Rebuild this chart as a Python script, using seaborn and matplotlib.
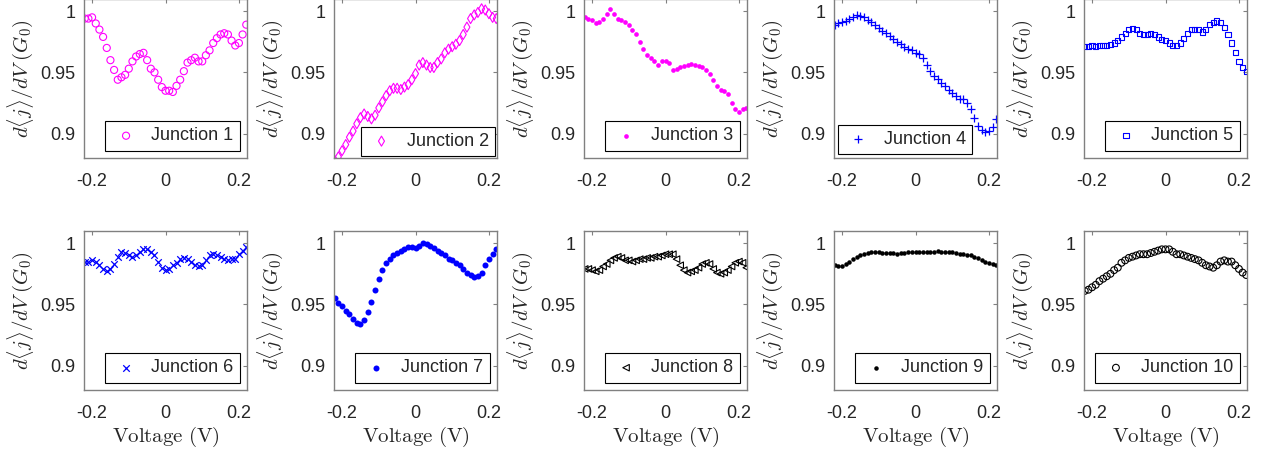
import numpy as np
import matplotlib
matplotlib.use("Agg")
import matplotlib.pyplot as plt
import seaborn as sns

volts = [-0.22, -0.21, -0.20, -0.19, -0.18, -0.17, -0.16, -0.15, -0.14, -0.13, -0.12,
         -0.11, -0.10, -0.09, -0.08, -0.07, -0.06, -0.05, -0.04, -0.03, -0.02, -0.01,
         0.00, 0.01, 0.02, 0.03, 0.04, 0.05, 0.06, 0.07, 0.08, 0.09, 0.10, 0.11,
         0.12, 0.13, 0.14, 0.15, 0.16, 0.17, 0.18, 0.19, 0.20, 0.21, 0.22]

j1 = [0.994, 0.994, 0.995, 0.990, 0.985, 0.979, 0.970, 0.960, 0.952, 0.944, 0.946,
      0.948, 0.953, 0.959, 0.963, 0.965, 0.966, 0.960, 0.953, 0.950, 0.944, 0.938,
      0.935, 0.935, 0.934, 0.939, 0.944, 0.951, 0.958, 0.960, 0.962, 0.959, 0.959, 0.964,
      0.968, 0.974, 0.978, 0.981, 0.982, 0.981, 0.976, 0.972, 0.974, 0.981, 0.989]
j2 = [0.878, 0.881, 0.886, 0.891, 0.897, 0.902, 0.908, 0.913, 0.916, 0.914, 0.912,
      0.915, 0.921, 0.926, 0.931, 0.935, 0.937, 0.937, 0.936, 0.938, 0.940, 0.944,
      0.949, 0.956, 0.958, 0.956, 0.954, 0.954, 0.958, 0.961, 0.966, 0.969, 0.971, 0.973,
      0.976, 0.981, 0.987, 0.994, 0.997, 0.999, 1.002, 1.001, 0.998, 0.995, 0.994]
j3 = [0.995, 0.994, 0.993, 0.990, 0.991, 0.994, 0.998, 1.002, 0.998, 0.994, 0.993,
      0.991, 0.989, 0.985, 0.981, 0.975, 0.969, 0.964, 0.962, 0.959, 0.956, 0.959,
      0.959, 0.958, 0.952, 0.953, 0.954, 0.955, 0.956, 0.957, 0.956, 0.955, 0.954, 0.952,
      0.949, 0.944, 0.939, 0.936, 0.935, 0.932, 0.925, 0.920, 0.918, 0.920, 0.921]
j4 = [0.989, 0.990, 0.991, 0.992, 0.994, 0.995, 0.997, 0.996, 0.995, 0.993, 0.991,
      0.989, 0.986, 0.984, 0.982, 0.980, 0.977, 0.975, 0.973, 0.971, 0.969, 0.968,
      0.966, 0.965, 0.962, 0.956, 0.951, 0.947, 0.945, 0.941, 0.939, 0.936, 0.933, 0.931,
      0.928, 0.928, 0.925, 0.920, 0.913, 0.906, 0.903, 0.901, 0.902, 0.905, 0.912]
j5 = [0.971, 0.971, 0.972, 0.971, 0.972, 0.972, 0.972, 0.973, 0.974, 0.976, 0.979,
      0.982, 0.985, 0.986, 0.985, 0.982, 0.981, 0.981, 0.982, 0.981, 0.979, 0.977,
      0.976, 0.974, 0.972, 0.972, 0.974, 0.978, 0.982, 0.985, 0.985, 0.985, 0.983, 0.985,
      0.989, 0.991, 0.992, 0.991, 0.987, 0.981, 0.974, 0.966, 0.959, 0.954, 0.951]
j6 = [0.985, 0.985, 0.986, 0.985, 0.982, 0.979, 0.977, 0.979, 0.983, 0.989, 0.993,
      0.992, 0.990, 0.989, 0.990, 0.993, 0.995, 0.995, 0.993, 0.990, 0.985, 0.980,
      0.978, 0.979, 0.982, 0.984, 0.987, 0.988, 0.987, 0.985, 0.982, 0.981, 0.982, 0.986,
      0.990, 0.991, 0.990, 0.989, 0.987, 0.986, 0.987, 0.987, 0.991, 0.994, 0.997]
j7 = [0.955, 0.951, 0.949, 0.945, 0.942, 0.938, 0.935, 0.934, 0.937, 0.944, 0.952,
      0.962, 0.971, 0.978, 0.984, 0.987, 0.990, 0.992, 0.994, 0.995, 0.997, 0.997,
      0.996, 0.998, 1.000, 0.999, 0.998, 0.996, 0.994, 0.992, 0.990, 0.987, 0.986, 0.984,
      0.982, 0.979, 0.976, 0.974, 0.972, 0.973, 0.976, 0.982, 0.987, 0.991, 0.995]
j8 = [0.979, 0.979, 0.978, 0.977, 0.978, 0.981, 0.983, 0.986, 0.988, 0.989, 0.988,
      0.986, 0.986, 0.985, 0.986, 0.987, 0.987, 0.988, 0.988, 0.989, 0.989, 0.990,
      0.991, 0.991, 0.991, 0.987, 0.982, 0.978, 0.976, 0.977, 0.978, 0.980, 0.983, 0.984,
      0.983, 0.979, 0.976, 0.975, 0.976, 0.978, 0.981, 0.984, 0.985, 0.984, 0.980]
j9 = [0.982, 0.981, 0.981, 0.983, 0.985, 0.987, 0.989, 0.990, 0.991, 0.992, 0.993,
      0.993, 0.993, 0.992, 0.992, 0.992, 0.992, 0.991, 0.992, 0.992, 0.993, 0.993,
      0.993, 0.993, 0.993, 0.993, 0.993, 0.993, 0.994, 0.993, 0.993, 0.993, 0.993, 0.992,
      0.991, 0.991, 0.990, 0.990, 0.989, 0.988, 0.986, 0.985, 0.984, 0.983, 0.982]
j10 = [0.961, 0.962, 0.964, 0.966, 0.969, 0.971, 0.973, 0.975, 0.978, 0.980, 0.984,
       0.986, 0.988, 0.989, 0.990, 0.991, 0.991, 0.991, 0.992, 0.993, 0.994, 0.995,
       0.995, 0.995, 0.993, 0.991, 0.991, 0.990, 0.989, 0.988, 0.987, 0.986, 0.984, 0.982,
       0.981, 0.980, 0.982, 0.985, 0.986, 0.985, 0.985, 0.982, 0.979, 0.976, 0.974]

series = [j1, j2, j3, j4, j5, j6, j7, j8, j9, j10]
labels = ["Junction %d" % i for i in range(1, 11)]
colors = ["#FF00FF"] * 3 + ["#0000FF"] * 4 + ["#000000"] * 3
markers = ["o", "d", ".", "+", "s", "x", ".", "<", ".", "o"]
hollow = [True, True, False, False, True, False, False, True, False, True]
sizes = [26, 26, 45, 30, 14, 22, 75, 22, 42, 24]
leg_loc = ["lower right"] * 10
leg_loc[3] = "lower left"
leg_pad = [0.4] * 10
leg_pad[1] = 0.1
leg_pad[3] = 0.2

sns.set_style("white")
plt.rcParams["font.family"] = ["Liberation Sans", "DejaVu Sans"]
plt.rcParams["mathtext.fontset"] = "cm"
plt.rcParams["axes.unicode_minus"] = False

fig = plt.figure(figsize=(12.73, 4.55), dpi=100)

for i in range(10):
    row, col = divmod(i, 5)
    left = (84 + 250 * col) / 1273
    bottom = (1 - 158 / 455) if row == 0 else (1 - 390 / 455)
    ax = fig.add_axes([left, bottom, 163 / 1273, 159 / 455])

    kw = dict(marker=markers[i], s=sizes[i], color=colors[i], label=labels[i])
    if hollow[i]:
        kw.update(facecolor="none", edgecolor=colors[i], linewidth=0.8)
    elif markers[i] == ".":
        kw.update(edgecolor=colors[i], linewidth=0)
    else:
        kw.update(linewidth=0.9)
    sns.scatterplot(x=volts, y=series[i], ax=ax, **kw)

    ax.set_xlim(-0.222, 0.222)
    ax.set_ylim(0.88, 1.01)
    ax.set_xticks([-0.2, 0, 0.2])
    ax.set_xticklabels(["-0.2", "0", "0.2"])
    ax.set_yticks([0.9, 0.95, 1])
    ax.set_yticklabels(["0.9", "0.95", "1"])
    ax.tick_params(direction="in", top=True, right=True, length=3, width=0.8,
                   color="#808080", labelsize=13, labelcolor="#262626")
    ax.tick_params(axis="x", pad=11)
    ax.tick_params(axis="y", pad=6)
    for sp in ax.spines.values():
        sp.set_color("#808080")
        sp.set_linewidth(1)
        sp.set_visible(True)

    ax.set_ylabel(r"$d\langle j\rangle/dV\;(G_0)$", fontsize=15, labelpad=3)
    if row == 1:
        ax.set_xlabel(r"$\mathrm{Voltage\ (V)}$", fontsize=15, labelpad=2)
    else:
        ax.set_xlabel("")

    leg = ax.legend(loc=leg_loc[i], fontsize=13, frameon=True, fancybox=False,
                    framealpha=1, edgecolor="black", scatterpoints=1,
                    handletextpad=0.6, borderpad=0.35, borderaxespad=leg_pad[i],
                    handlelength=1.6)
    leg.get_frame().set_linewidth(0.8)

fig.savefig("out.png", dpi=100)
